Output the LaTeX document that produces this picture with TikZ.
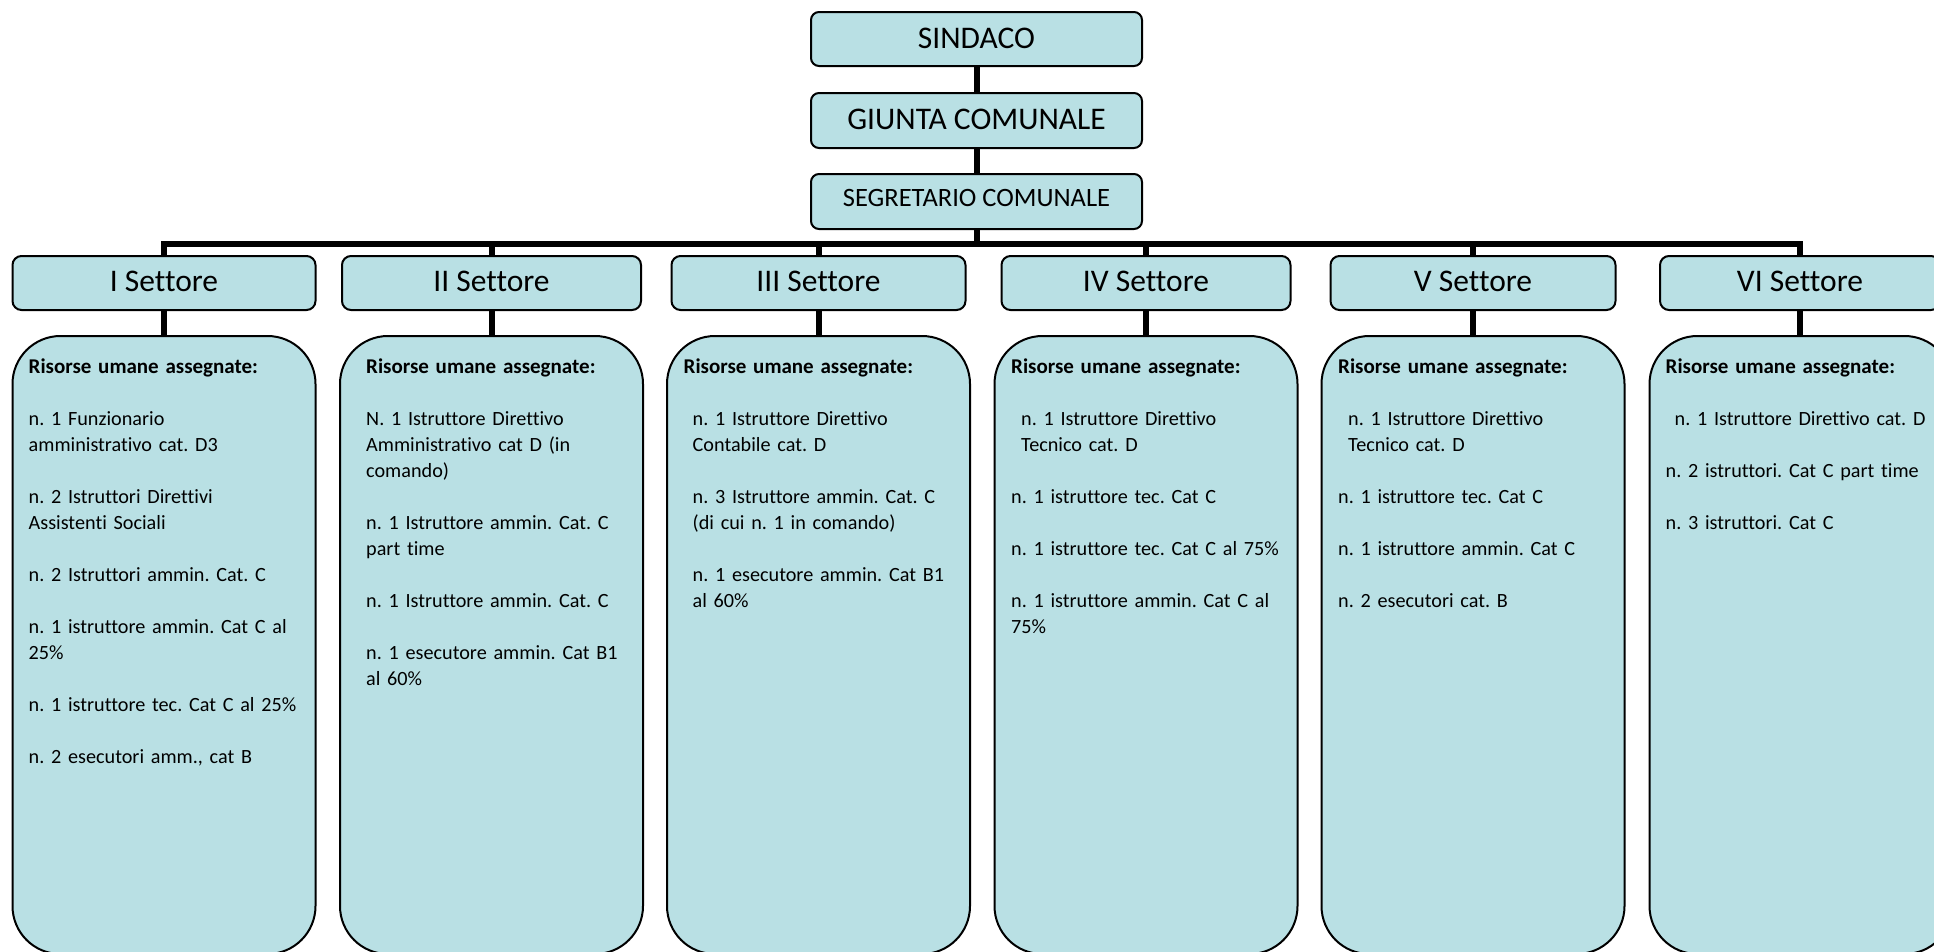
\documentclass[tikz,border=0pt]{standalone}
\usepackage{fontspec}
\setmainfont{Carlito}[Ligatures=NoCommon]
\frenchspacing
\definecolor{boxfill}{RGB}{185,224,228}
\newcommand{\lgap}{\\[26pt]}
\newcommand{\bodyfont}{\fontsize{20.2}{26}\selectfont}
\newcommand{\rtitle}{{\fontsize{21}{26}\selectfont\bfseries Risorse umane assegnate:}}
\tikzset{
  topbox/.style={draw=black, line width=2pt, fill=boxfill, rounded corners=8pt,
    minimum width=331pt, minimum height=54pt, inner sep=0pt,
    font=\fontsize{31.5}{37}\selectfont},
  sethead/.style={draw=black, line width=2pt, fill=boxfill, rounded corners=9pt,
    minimum height=54pt, inner sep=0pt, font=\fontsize{31.5}{37}\selectfont},
  resbox/.style={draw=black, line width=2pt, fill=boxfill, rounded corners=48pt,
    minimum width=303pt, minimum height=618pt, inner sep=0pt},
  txt/.style={anchor=north west, inner sep=0pt, text width=420pt, align=left, font=\bodyfont},
  conn/.style={draw=black, line width=6pt}
}
\newcommand{\up}[2]{\raisebox{#1pt}{#2}}
\begin{document}
\begin{tikzpicture}[x=1pt,y=-1pt]
\path[use as bounding box, clip] (0,0) rectangle (1934,951);
\fill[white] (0,0) rectangle (1934,951);

% top chain
\node[topbox] (sind) at (976.5,39) {\up{1.5}{SINDACO}};
\node[topbox, minimum height=55pt] (giunta) at (976.5,120.5) {\up{1.5}{GIUNTA COMUNALE}};
\node[topbox, minimum height=55pt, font=\fontsize{26.5}{32}\selectfont] (seg) at (976.5,201.5) {\up{8}{SEGRETARIO COMUNALE}};

% sector headers
\node[sethead, minimum width=303pt] (h1) at (164,283) {\up{3}{I Settore}};
\node[sethead, minimum width=299pt] (h2) at (491.5,283) {\up{3}{II Settore}};
\node[sethead, minimum width=294pt] (h3) at (818.5,283) {\up{3}{III Settore}};
\node[sethead, minimum width=289pt] (h4) at (1146,283) {\up{3}{IV Settore}};
\node[sethead, minimum width=285pt] (h5) at (1473,283) {\up{3}{V Settore}};
\node[sethead, minimum width=280pt] (h6) at (1800,283) {\up{3}{VI Settore}};

% resource boxes
\node[resbox] (r1) at (164,645) {};
\node[resbox] (r2) at (491.5,645) {};
\node[resbox] (r3) at (818.5,645) {};
\node[resbox] (r4) at (1146,645) {};
\node[resbox] (r5) at (1473,645) {};
\node[resbox] (r6) at (1801,645) {};

% connectors
\coordinate (bar) at (0,244);
\draw[conn] (sind.south) -- (giunta.north);
\draw[conn] (giunta.south) -- (seg.north);
\draw[conn] (seg.south) -- (seg.south |- bar);
\draw[conn, line join=miter] (h1.north) -- (h1.north |- bar) -- (h6.north |- bar) -- (h6.north);
\foreach \k in {2,3,4,5} {\draw[conn] (h\k.north) -- (h\k.north |- bar);}
\foreach \k in {1,...,6} {\draw[conn] (h\k.south) -- (h\k.south |- r\k.north);}

% texts
\node[txt] (t1) at (28.5,353) {\noindent\rule{0pt}{20pt}\rtitle\lgap
n. 1 Funzionario\\ amministrativo cat. D3\lgap
n. 2 Istruttori Direttivi\\ Assistenti Sociali\lgap
n. 2 Istruttori ammin. Cat. C\lgap
n. 1 istruttore ammin. Cat C al\\ 25\%\lgap
n. 1 istruttore tec. Cat C al 25\%\lgap
n. 2 esecutori amm., cat B};

\node[txt] (t2) at (366,353) {\noindent\rule{0pt}{20pt}\rtitle\lgap
N. 1 Istruttore Direttivo\\ Amministrativo cat D (in\\ comando)\lgap
n. 1 Istruttore ammin. Cat. C\\ part time\lgap
n. 1 Istruttore ammin. Cat. C\lgap
n. 1 esecutore ammin. Cat B1\\ al 60\%};

\node[txt] (t3) at (683.5,353) {\noindent\rule{0pt}{20pt}\rtitle\lgap
\hspace*{9pt}n. 1 Istruttore Direttivo\\ \hspace*{9pt}Contabile cat. D\lgap
\hspace*{9pt}n. 3 Istruttore ammin. Cat. C\\ \hspace*{9pt}(di cui n. 1 in comando)\lgap
\hspace*{9pt}n. 1 esecutore ammin. Cat B1\\ \hspace*{9pt}al 60\%};

\node[txt] (t4) at (1011,353) {\noindent\rule{0pt}{20pt}\rtitle\lgap
\hspace*{10pt}n. 1 Istruttore Direttivo\\ \hspace*{10pt}Tecnico cat. D\lgap
n. 1 istruttore tec. Cat C\lgap
n. 1 istruttore tec. Cat C al 75\%\lgap
n. 1 istruttore ammin. Cat C al\\ 75\%};

\node[txt] (t5) at (1338,353) {\noindent\rule{0pt}{20pt}\rtitle\lgap
\hspace*{10pt}n. 1 Istruttore Direttivo\\ \hspace*{10pt}Tecnico cat. D\lgap
n. 1 istruttore tec. Cat C\lgap
n. 1 istruttore ammin. Cat C\lgap
n. 2 esecutori cat. B};

\node[txt] (t6) at (1665.5,353) {\noindent\rule{0pt}{20pt}\rtitle\lgap
\hspace*{9pt}n. 1 Istruttore Direttivo cat. D\lgap
n. 2 istruttori. Cat C part time\lgap
n. 3 istruttori. Cat C};
\end{tikzpicture}
\end{document}
